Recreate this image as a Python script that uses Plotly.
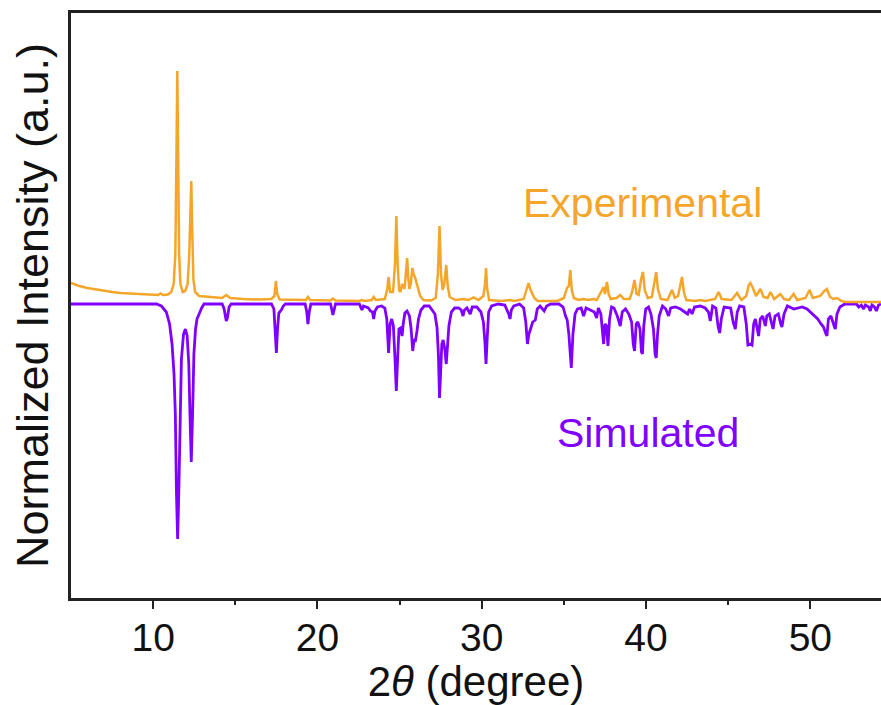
import plotly.graph_objects as go

# ---- data (2theta in degrees, intensity in arbitrary units) ----
exp_x = [5.0, 5.5, 6.0, 6.5, 7.0, 7.5, 8.0, 8.5, 9.0, 9.5, 10.0, 10.3, 10.45, 10.6, 10.9, 11.1, 11.25, 11.35,
         11.42, 11.47, 11.52, 11.58, 11.66, 11.8, 11.95, 12.1, 12.2, 12.27, 12.32, 12.37, 12.45, 12.55, 12.8,
         13.5, 14.2, 14.45, 14.7, 15.5, 16.5, 17.2, 17.38, 17.47, 17.55, 17.7, 18.5, 19.3, 19.42, 19.55, 20.8,
         20.94, 21.1, 22.5, 22.7, 22.9, 23.3, 23.42, 23.55, 24.1, 24.25, 24.33, 24.42, 24.6, 24.72, 24.8, 24.88,
         24.97, 25.05, 25.15, 25.3, 25.4, 25.46, 25.53, 25.6, 25.68, 25.78, 25.85, 25.95, 26.1, 26.25, 26.45,
         26.9, 27.2, 27.33, 27.43, 27.52, 27.62, 27.72, 27.84, 27.93, 28.05, 28.4, 28.86, 29.2, 29.5, 29.8,
         30.1, 30.2, 30.26, 30.33, 30.45, 31.2, 31.74, 32.0, 32.55, 32.7, 32.85, 32.95, 33.05, 33.2, 33.4, 34.6,
         35.0, 35.19, 35.3, 35.39, 35.48, 35.6, 35.9, 36.2, 36.5, 36.8, 37.0, 37.3, 37.42, 37.5, 37.62, 37.72,
         37.85, 38.2, 38.43, 38.65, 39.0, 39.15, 39.3, 39.42, 39.55, 39.7, 39.81, 39.92, 40.1, 40.35, 40.5,
         40.62, 40.72, 40.9, 41.3, 41.58, 41.75, 41.95, 42.1, 42.19, 42.3, 42.45, 43.0, 43.3, 43.6, 44.2, 44.42,
         44.6, 45.2, 45.54, 45.8, 46.1, 46.25, 46.35, 46.5, 46.7, 46.96, 47.15, 47.4, 47.57, 47.8, 48.17, 48.4,
         48.7, 48.98, 49.2, 49.7, 49.95, 50.15, 50.6, 50.85, 51.01, 51.2, 51.4, 51.62, 51.9, 52.13, 54.3]
exp_y = [21, 18, 16, 14.5, 13, 12, 11, 10.5, 10, 9.5, 9, 9, 10.5, 9, 9.5, 12, 20, 50,
         150, 233, 150, 50, 20, 12, 13, 20, 50, 100, 123, 80, 25, 12, 8,
         7, 6, 9, 6, 5, 4.5, 5, 8, 23, 10, 4.5, 4, 4, 7, 4, 3.5,
         5.5, 3.5, 3, 4, 3, 4, 7, 4, 5, 15, 27, 12, 12, 40, 88, 40,
         14, 12, 20, 15, 35, 46, 25, 15, 20, 36, 30, 26, 17, 8, 4,
         3.5, 6, 30, 78, 30, 14, 20, 39, 18, 7, 4, 5, 4, 6.5, 4,
         8, 20, 36, 15, 4, 3, 4, 3, 5, 14, 21, 15, 11, 6, 3, 3,
         6, 16, 18, 34, 14, 6, 4, 5, 4, 5, 4, 14, 17, 10, 22, 10,
         5, 6, 9, 5, 5, 12, 24, 10, 9, 25, 32, 14, 6, 7, 20,
         32, 15, 5, 4, 14, 6, 8, 20, 27, 12, 4, 3, 4, 3, 5, 12,
         5, 4, 11, 4, 8, 19, 21, 16, 8, 15, 7, 6, 12, 5, 10, 5,
         4, 10, 4, 6, 14, 6, 8, 13, 15, 7, 5, 6, 3, 2, 2]

sim_x = [5.0, 10.2, 10.5, 10.8, 11.0, 11.15, 11.27, 11.35, 11.42, 11.49, 11.56, 11.63, 11.72, 11.85, 11.96,
         12.07, 12.17, 12.24, 12.32, 12.4, 12.48, 12.58, 12.67, 12.8, 12.95, 13.1, 14.2, 14.32, 14.4, 14.45,
         14.52, 14.62, 14.75, 17.2, 17.35, 17.43, 17.5, 17.57, 17.65, 17.8, 17.92, 18.05, 19.25, 19.35, 19.42,
         19.5, 19.6, 20.8, 20.9, 20.94, 21.0, 21.1, 22.55, 22.65, 22.71, 22.8, 23.1, 23.22, 23.35, 23.42, 23.5,
         23.65, 23.9, 24.1, 24.22, 24.33, 24.42, 24.52, 24.62, 24.72, 24.8, 24.88, 24.96, 25.05, 25.15, 25.22,
         25.32, 25.45, 25.6, 25.7, 25.8, 25.88, 25.95, 26.05, 26.15, 26.3, 26.5, 26.8, 27.0, 27.15, 27.28,
         27.36, 27.43, 27.5, 27.57, 27.65, 27.75, 27.84, 27.92, 28.0, 28.15, 28.35, 28.6, 28.75, 28.86, 28.95,
         29.1, 29.3, 29.42, 29.7, 29.95, 30.1, 30.2, 30.26, 30.33, 30.42, 30.6, 31.0, 31.4, 31.55, 31.64,
         31.72, 31.8, 31.95, 32.3, 32.55, 32.68, 32.78, 32.87, 32.97, 33.1, 33.26, 33.38, 33.55, 33.8, 33.95,
         34.2, 34.7, 34.95, 35.1, 35.2, 35.3, 35.45, 35.55, 35.68, 35.83, 36.05, 36.2, 36.35, 36.6, 36.85,
         36.99, 37.1, 37.25, 37.35, 37.42, 37.5, 37.6, 37.68, 37.78, 37.9, 38.05, 38.25, 38.43, 38.55, 38.75,
         38.95, 39.12, 39.22, 39.3, 39.4, 39.5, 39.63, 39.72, 39.78, 39.86, 39.98, 40.15, 40.3, 40.45, 40.55,
         40.62, 40.7, 40.8, 41.0, 41.2, 41.37, 41.5, 41.8, 42.1, 42.35, 42.53, 42.65, 42.8, 42.95, 43.3, 43.6,
         43.8, 43.91, 44.05, 44.25, 44.38, 44.48, 44.58, 44.75, 45.15, 45.3, 45.43, 45.55, 45.7, 45.95, 46.1,
         46.2, 46.35, 46.45, 46.55, 46.65, 46.78, 46.85, 46.95, 47.1, 47.26, 47.35, 47.5, 47.65, 47.73, 47.85,
         48.05, 48.2, 48.27, 48.4, 48.6, 49.0, 49.3, 49.5, 49.8, 50.0, 50.25, 50.45, 50.65, 50.8, 50.95, 51.01,
         51.1, 51.25, 51.45, 51.52, 51.62, 51.8, 52.1, 52.8, 52.95, 53.1, 53.24, 53.35, 53.55, 53.65, 53.75,
         53.9, 54.02, 54.15, 54.3]
sim_y = [0, 0, -2, -8, -20, -40, -70, -110, -190, -235, -190, -110, -55, -30, -25,
         -32, -60, -110, -158, -110, -50, -25, -15, -10, -4, 0, 0, -5, -15, -17,
         -14, -3, 0, 0, -5, -25, -49, -25, -9, -6, -2, 0, 0, -8, -20,
         -8, 0, 0, -7, -11, -7, 0, 0, -4, -6, -2, -4, -7, -8, -15, -7,
         -3, -2, -4, -15, -49, -20, -15, -22, -55, -87, -55, -25, -24, -32, -20,
         -9, -7, -12, -25, -47, -35, -38, -28, -15, -6, -2, -2, -6, -10, -24,
         -50, -94, -55, -40, -36, -45, -60, -38, -22, -8, -4, -4, -6, -12, -6,
         -4, -10, -3, -3, -8, -18, -40, -60, -35, -8, -2, 0, -1, -6, -10,
         -15, -6, -2, 0, -4, -18, -40, -30, -25, -18, -16, -5, -2, -7, -2,
         0, 0, -3, -12, -16, -30, -64, -30, -10, -5, -4, -12, -4, -6, -8,
         -14, -4, -10, -30, -40, -20, -22, -42, -15, -3, -4, -12, -22, -8, -5,
         -10, -18, -40, -47, -20, -18, -25, -48, -50, -22, -5, -3, -10, -25, -50,
         -54, -30, -12, -2, -5, -12, -4, -3, -5, -8, -10, -5, -10, -3, -2, -4,
         -8, -17, -2, -4, -22, -29, -15, -3, -4, -18, -25, -8, -2, -3, -20,
         -41, -40, -41, -20, -15, -28, -32, -15, -12, -22, -12, -10, -20, -25, -12,
         -10, -20, -23, -10, -2, -5, -4, -3, -5, -8, -12, -15, -20, -23, -30, -32,
         -15, -12, -22, -25, -10, -3, 0, 0, -3, -1, -5, -1, -3, -7, -1,
         -3, -7, -1, 0]

x_ticks = [10, 20, 30, 40, 50]
x_title = "2<i>θ</i> (degree)"
y_title = "Normalized Intensity (a.u.)"
labels = ["Experimental", "Simulated"]

ORANGE = "#F5A52A"
PURPLE = "#8000FF"
FONT = "Liberation Sans, Arial, sans-serif"

fig = go.Figure()
fig.add_trace(go.Scatter(x=sim_x, y=sim_y, mode="lines", line=dict(color=PURPLE, width=2.8),
                         name=labels[1], showlegend=False))
fig.add_trace(go.Scatter(x=exp_x, y=exp_y, mode="lines", line=dict(color=ORANGE, width=2.5),
                         name=labels[0], showlegend=False))

fig.add_annotation(x=39.77, y=101, xref="x", yref="y", text=labels[0], showarrow=False,
                   font=dict(family=FONT, size=41, color=ORANGE), xanchor="center", yanchor="middle")
fig.add_annotation(x=40.14, y=-129, xref="x", yref="y", text=labels[1], showarrow=False,
                   font=dict(family=FONT, size=41, color=PURPLE), xanchor="center", yanchor="middle")

fig.update_layout(
    width=881, height=705,
    margin=dict(l=71, r=0, t=13, b=107),
    paper_bgcolor="white", plot_bgcolor="white",
    font=dict(family=FONT, color="#111111"),
    showlegend=False,
)
fig.update_xaxes(
    range=[5, 54.3], tickvals=x_ticks, ticktext=[str(t) for t in x_ticks],
    showline=True, linecolor="#222222", linewidth=2.5, mirror=True,
    ticks="outside", ticklen=8, tickwidth=2, tickcolor="#222222",
    minor=dict(tickvals=[15, 25, 35, 45], ticks="outside", ticklen=4, tickwidth=2, tickcolor="#222222"),
    showgrid=False, zeroline=False,
    ticklabelstandoff=-5,
    tickfont=dict(family=FONT, size=39, color="#111111"),
    title=dict(text=x_title, font=dict(family=FONT, size=42, color="#111111"), standoff=3),
)
fig.update_yaxes(
    range=[-294, 291], showticklabels=False, ticks="",
    showline=True, linecolor="#222222", linewidth=2.5, mirror=False,
    showgrid=False, zeroline=False,
    title=dict(text=y_title, font=dict(family=FONT, size=45, color="#111111"), standoff=6),
)

fig.write_html("out.html")
